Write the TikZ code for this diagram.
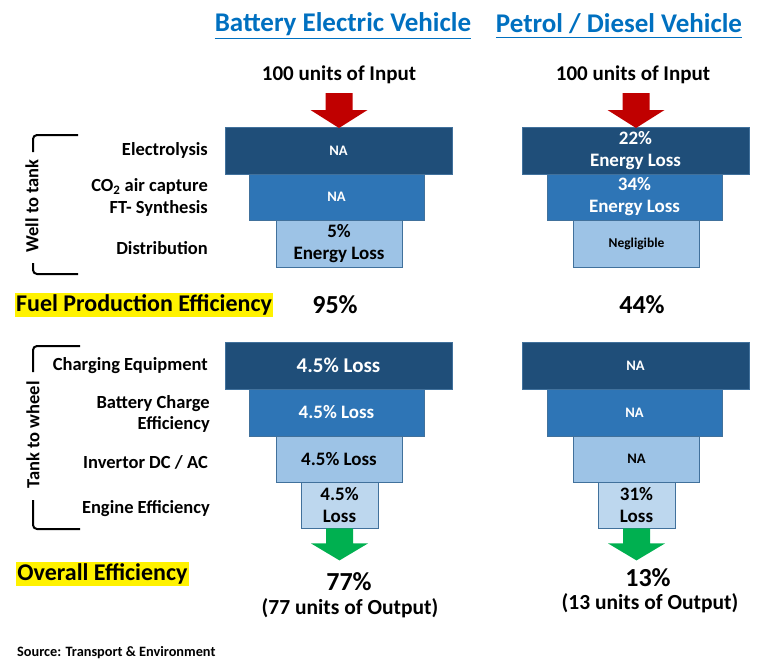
\documentclass[tikz,border=0pt]{standalone}
\usepackage{fontspec}
\setmainfont{Carlito}
\usetikzlibrary{positioning}
\definecolor{darkbox}{HTML}{1F4E79}
\definecolor{midbox}{HTML}{2E75B6}
\definecolor{lightbox}{HTML}{9DC3E6}
\definecolor{palebox}{HTML}{BDD7EE}
\definecolor{boxline}{HTML}{41719C}
\definecolor{titleblue}{HTML}{0070C0}
\definecolor{inred}{HTML}{C00000}
\definecolor{outgreen}{HTML}{00B050}
% block arrow pointing down: top centre, shaft length, head length
\def\blockdown[#1](#2)#3#4{\fill[#1] (#2) ++(-13.5,0) -- ++(27,0) -- ++(0,#3) -- ++(15,0) -- ++(-28.5,#4) -- ++(-28.5,-#4) -- ++(15,0) -- cycle;}
\tikzset{
  stagebox/.style={draw=boxline, line width=0.8pt, inner sep=0pt, align=center,
    font=\fontsize{19}{22}\selectfont\bfseries},
  smallbox/.style={stagebox, font=\fontsize{14.5}{16}\selectfont\bfseries},
  stagetext/.style={anchor=east, align=right, inner sep=0pt, font=\fontsize{18.5}{21.5}\selectfont\bfseries},
  headtext/.style={inner sep=0pt, font=\fontsize{27}{30}\selectfont\bfseries},
  bigtext/.style={inner sep=0pt, align=center, font=\fontsize{21.5}{25}\selectfont\bfseries},
  pcttext/.style={inner sep=0pt, font=\fontsize{26}{30}\selectfont\bfseries},
  marktext/.style={fill=yellow, inner sep=1.5pt, font=\fontsize{24}{28}\selectfont\bfseries},
  bracket/.style={line width=2pt, rounded corners=4pt},
}

\begin{document}
\begin{tikzpicture}[x=1pt,y=-1pt]
  %%%%% START %%%%%
  \useasboundingbox (0,0) rectangle (760,670);

  % titles
  \node[headtext, text=titleblue] (bevtitle) at (343,24) {Battery Electric Vehicle};
  \node[headtext, text=titleblue] (pdvtitle) at (619,24) {Petrol / Diesel Vehicle};
  \draw[titleblue, line width=1.2pt] ([yshift=-3pt]bevtitle.south west) -- ([yshift=-3pt]bevtitle.south east);
  \draw[titleblue, line width=1.2pt] ([yshift=-3pt]pdvtitle.south west) -- ([yshift=-3pt]pdvtitle.south east);

  \node[bigtext, font=\fontsize{21}{25}\selectfont\bfseries] (bevin) at (339,75) {100 units of Input};
  \node[bigtext, font=\fontsize{21}{25}\selectfont\bfseries] (pdvin) at (633,75) {100 units of Input};

  % well to tank
  \node[smallbox, fill=darkbox, text=white, minimum width=227, minimum height=47] (bevelec) at (338.5,150.5) {NA};
  \node[smallbox, fill=midbox, text=white, minimum width=175, minimum height=46] (bevco) at (336.5,197) {NA};
  \node[stagebox, fill=lightbox, minimum width=126, minimum height=47] (bevdist) at (339,243.5) {5\%\\Energy Loss};

  \node[stagebox, fill=darkbox, text=white, minimum width=227, minimum height=47] (pdvelec) at (635.5,150.5) {22\%\\Energy Loss};
  \node[stagebox, fill=midbox, text=white, minimum width=175, minimum height=46] (pdvco) at (634.5,197) {34\%\\Energy Loss};
  \node[smallbox, fill=lightbox, minimum width=126, minimum height=47, font=\fontsize{13.5}{16}\selectfont\bfseries] (pdvdist) at (636.5,243.5) {Negligible};

  \blockdown[inred](339,93){17}{18}
  \blockdown[inred](636,93){17}{18}

  \node[stagetext] (lelec) at (208,150) {Electrolysis};
  \node[stagetext] (lco) at (208,197.5) {CO\textsubscript{2} air capture\\FT- Synthesis};
  \node[stagetext] (ldist) at (208,248) {Distribution};

  \node[stagetext, rotate=90, anchor=center] (welltank) at (32,206) {Well to tank};
  \draw[bracket] (78,135) -| (33,152);
  \draw[bracket] (33,263) |- (78,274);

  \node[marktext] (fpe) at (144,305) {Fuel Production Efficiency};
  \node[pcttext] (bevfpe) at (335,305) {95\%};
  \node[pcttext] (pdvfpe) at (642,305) {44\%};

  % tank to wheel
  \node[stagebox, fill=darkbox, text=white, minimum width=227, minimum height=47, font=\fontsize{21}{22}\selectfont\bfseries] (bevcharge) at (338.5,365.5) {4.5\% Loss};
  \node[stagebox, fill=midbox, text=white, minimum width=175, minimum height=47] (bevbatt) at (336.5,412.5) {4.5\% Loss};
  \node[stagebox, fill=lightbox, minimum width=126, minimum height=46] (bevinv) at (339,459) {4.5\% Loss};
  \node[stagebox, fill=palebox, minimum width=77, minimum height=46] (beveng) at (339.5,505) {4.5\%\\Loss};

  \node[smallbox, fill=darkbox, text=white, minimum width=227, minimum height=47] (pdvcharge) at (635.5,365.5) {NA};
  \node[smallbox, fill=midbox, text=white, minimum width=175, minimum height=47] (pdvbatt) at (634.5,412.5) {NA};
  \node[smallbox, fill=lightbox, minimum width=126, minimum height=46] (pdvinv) at (636.5,459) {NA};
  \node[stagebox, fill=palebox, minimum width=77, minimum height=46] (pdveng) at (636.5,505) {31\%\\Loss};

  \blockdown[outgreen](beveng.south){15}{17}
  \blockdown[outgreen](pdveng.south){15}{17}

  \node[stagetext] (lcharge) at (208,366) {Charging Equipment};
  \node[stagetext] (lbatt) at (210,414) {Battery Charge\\Efficiency};
  \node[stagetext] (linv) at (208,462) {Invertor DC / AC};
  \node[stagetext] (leng) at (210,509) {Engine Efficiency};

  \node[stagetext, rotate=90, anchor=center] (tankwheel) at (33,435) {Tank to wheel};
  \draw[bracket] (80,346) -| (33,372);
  \draw[bracket] (33,500) |- (80,529);

  % output
  \node[marktext] (overall) at (102.5,574) {Overall Efficiency};
  \node[pcttext] (bevout) at (349,582) {77\%};
  \node[bigtext] (bevunits) at (350,608) {(77 units of Output)};
  \node[pcttext] (pdvout) at (648,578) {13\%};
  \node[bigtext] (pdvunits) at (650,603) {(13 units of Output)};

  \node[anchor=west, inner sep=0pt, font=\fontsize{14.3}{16}\selectfont\bfseries] (source) at (17,653) {Source: Transport \& Environment};
  %%%%% END %%%%%
\end{tikzpicture}
\end{document}
